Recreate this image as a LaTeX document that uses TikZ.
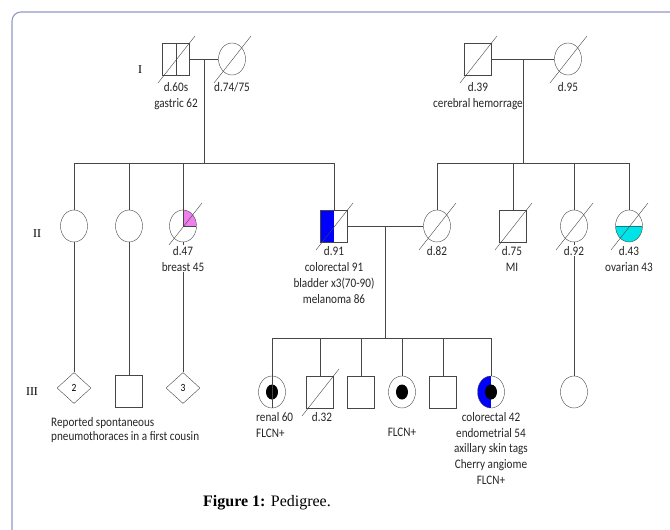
\documentclass[tikz,border=0pt]{standalone}
\usepackage{fontspec}
\setmainfont{Liberation Serif}
\newfontfamily\lblfont[FakeStretch=0.86]{Carlito}
\usetikzlibrary{shapes.geometric,positioning,calc}

\definecolor{pedline}{RGB}{70,70,70}
\definecolor{framec}{RGB}{150,150,200}
\definecolor{affblue}{RGB}{0,0,255}
\definecolor{breastpink}{RGB}{238,128,238}
\definecolor{ovcyan}{RGB}{0,228,232}
\definecolor{ovline}{RGB}{0,130,140}

\begin{document}
\begin{tikzpicture}[x=1pt, y=-1pt,
    male/.style={rectangle, draw=pedline, minimum width=27pt, minimum height=32pt, inner sep=0pt},
    female/.style={ellipse, draw=pedline, minimum width=27pt, minimum height=32pt, inner sep=0pt},
    sexunk/.style={diamond, draw=pedline, minimum width=34pt, minimum height=31pt, inner sep=0pt,
                   font=\lblfont\fontsize{11}{11}\selectfont},
    dead/.style={append after command={
        ($(\tikzlastnode.center)+(-18pt,-24pt)$) edge[draw=pedline] ($(\tikzlastnode.center)+(19pt,23pt)$)}},
    midline/.style={path picture={\draw[pedline] (path picture bounding box.north) -- (path picture bounding box.south);}},
    lefthalf/.style={path picture={\fill[affblue] (path picture bounding box.south west) rectangle (path picture bounding box.north);}},
    pinkq/.style={path picture={
        \fill[breastpink] (path picture bounding box.center) rectangle (path picture bounding box.north east);
        \draw[pedline] (path picture bounding box.north) -- (path picture bounding box.center) -- (path picture bounding box.east);}},
    lowcyan/.style={path picture={
        \fill[ovcyan] (path picture bounding box.west) rectangle (path picture bounding box.south east);
        \draw[ovline, line width=1pt] (path picture bounding box.west) -- (path picture bounding box.east);}},
    dotc/.style={path picture={\fill[black] (path picture bounding box.center) ellipse [x radius=6pt, y radius=7.5pt];}},
    bluedot/.style={path picture={
        \fill[affblue] (path picture bounding box.south west) rectangle (path picture bounding box.north);
        \fill[black] (path picture bounding box.center) ellipse [x radius=6pt, y radius=7.5pt];}},
    conn/.style={draw=pedline, line width=0.6pt},
    lbl/.style={font=\lblfont\fontsize{13}{16}\selectfont, align=center, inner sep=1pt, anchor=north, text=black!85},
    gen/.style={font=\fontsize{12}{14}\selectfont}
]

\fill[white] (0,0) rectangle (670,530);
\useasboundingbox (0,0) rectangle (670,530);
\draw[framec, line width=1.1pt, rounded corners=9pt] (12,545) -- (12,12) -- (690,12);

% Generation I
\node[male, dead, midline] (i1) at (176,59) {};
\node[female, dead]        (i2) at (232,59) {};
\node[male, dead]          (i3) at (478,59) {};
\node[female, dead]        (i4) at (568,59) {};

% Generation II
\node[female]              (ii1) at (74,226)  {};
\node[female]              (ii2) at (129,226) {};
\node[female, dead, pinkq] (ii3) at (183,226) {};
\node[male, dead, lefthalf](ii4) at (334,226) {};
\node[female, dead]        (ii5) at (437,226) {};
\node[male, dead]          (ii6) at (513,226) {};
\node[female, dead]        (ii7) at (574,226) {};
\node[female, dead, lowcyan](ii8) at (629,226) {};

% Generation III
\node[sexunk]              (iii1)  at (74,388)  {2};
\node[male]                (iii2)  at (129,391) {};
\node[sexunk]              (iii3)  at (183,388) {3};
\node[female, dotc]        (iii4)  at (272,392) {};
\node[male, dead]          (iii5)  at (320,392) {};
\node[male]                (iii6)  at (361,392) {};
\node[female, dotc]        (iii7)  at (402,392) {};
\node[male]                (iii8)  at (443,392) {};
\node[female, bluedot]     (iii9)  at (491,392) {};
\node[female]              (iii10) at (574,392) {};

% Couples and sibships
\coordinate (c1) at ($(i1.east)!0.5!(i2.west)$);
\coordinate (s1) at ($(c1)+(0,104)$);
\coordinate (c2) at ($(i3.east)!0.5!(i4.west)$);
\coordinate (s2) at ($(c2)+(0,104)$);
\coordinate (c3) at ($(ii4.east)!0.5!(ii5.west)$);
\coordinate (s3) at ($(c3)+(0,112)$);

\draw[conn] (i1.east) -- (i2.west);
\draw[conn] (i3.east) -- (i4.west);
\draw[conn] (ii4.east) -- (ii5.west);
\draw[conn] (c1) -- (s1);
\draw[conn] (c2) -- (s2);
\draw[conn] (c3) -- (s3);
\foreach \k in {ii1,ii2,ii3,ii4}
    \draw[conn] (s1) -| (\k.north);
\foreach \k in {ii5,ii6,ii7,ii8}
    \draw[conn] (s2) -| (\k.north);
\foreach \k in {iii4,iii5,iii6,iii7,iii8,iii9}
    \draw[conn] (s3) -| (\k.north);

% Lines to cousins
\draw[conn] (ii1.south) -- (iii1.north);
\draw[conn] (ii2.south) -- (iii2.north);
\draw[conn] (ii3.south) -- (iii3.north);
\draw[conn] (ii7.south) -- (iii10.north);
\draw[conn] (iii4.north) -- (iii4.south);

% Labels
\node[lbl] (l1) at (176,81) {d.60s\\gastric 62};
\node[lbl] (l2) at (232,81) {d.74/75};
\node[lbl] (l3) at (478,81) {d.39\\cerebral hemorrage};
\node[lbl] (l4) at (568,81) {d.95};
\node[lbl, fill=white] (l5) at (183,245) {d.47\\breast 45};
\node[lbl] (l6) at (334,245) {d.91\\colorectal 91\\bladder x3(70-90)\\melanoma 86};
\node[lbl] (l7) at (437,245) {d.82};
\node[lbl] (l8) at (512,245) {d.75\\MI};
\node[lbl, fill=white] (l9) at (574,245) {d.92};
\node[lbl] (l10) at (629,245) {d.43\\ovarian 43};
\node[lbl, align=left, anchor=north west] (l11) at (255,411) {renal 60\\FLCN+};
\node[lbl] (l12) at (322,411) {d.32};
\node[lbl] (l13) at (402,427) {FLCN+};
\node[lbl, font=\lblfont\fontsize{13}{15.8}\selectfont] (l14) at (491,411)
    {colorectal 42\\endometrial 54\\axillary skin tags\\Cherry angiome\\FLCN+};
\node[lbl, align=left, anchor=north west, font=\lblfont\fontsize{13}{14}\selectfont] (note) at (50,416)
    {Reported spontaneous\\pneumothoraces in a first cousin};

% Generations
\node[gen] (gI)   at (140,70)  {I};
\node[gen] (gII)  at (37,234)  {II};
\node[gen] (gIII) at (32,392)  {III};

\node[font=\fontsize{16}{19}\selectfont] (cap) at (267,503) {\textbf{Figure 1:} Pedigree.};

\end{tikzpicture}
\end{document}
